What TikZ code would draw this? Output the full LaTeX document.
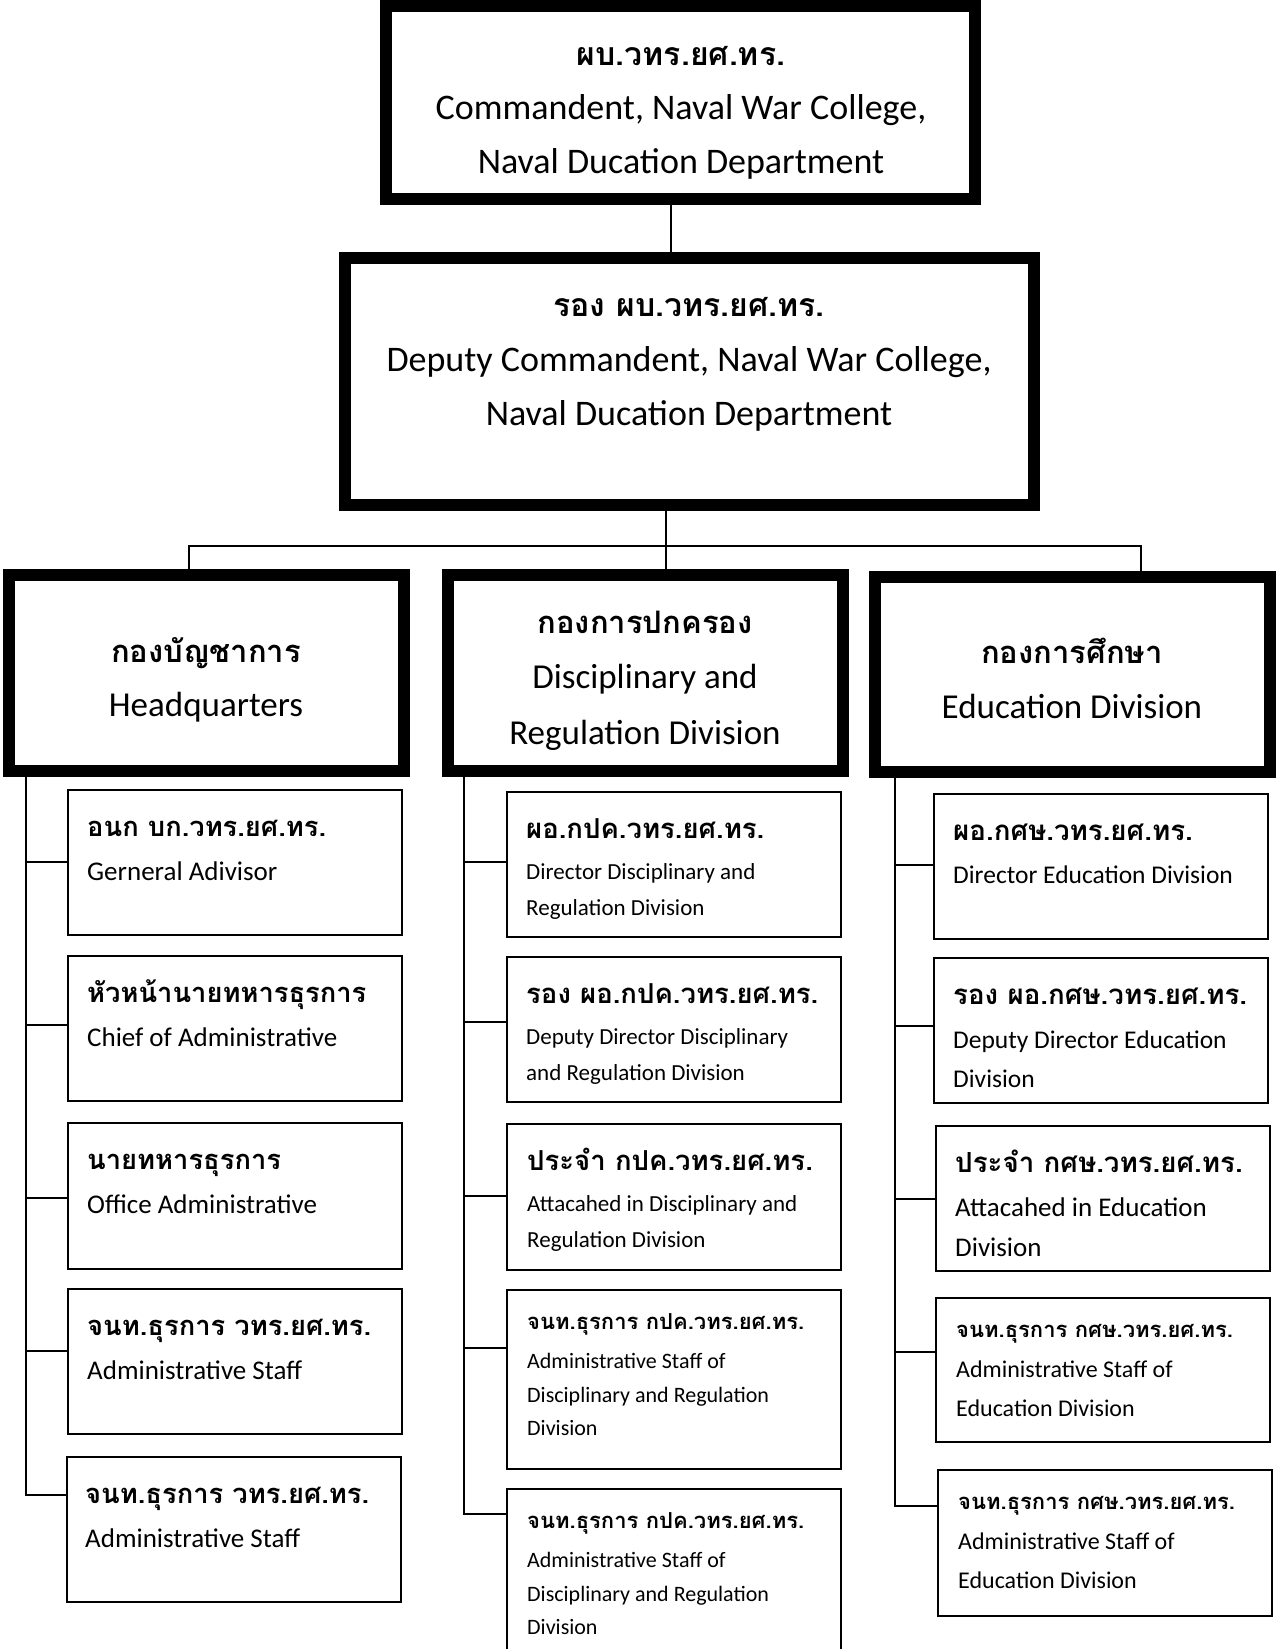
\documentclass[tikz,border=0pt]{standalone}
\usepackage{fontspec}
\setmainfont{Carlito}
\newfontfamily\thaifont[Script=Thai]{Loma}
\usetikzlibrary{calc}
\newcommand{\thb}[1]{\thaifont\bfseries\fontsize{#1pt}{#1pt}\selectfont}
\newcommand{\lat}[1]{\fontsize{#1pt}{#1pt}\selectfont}
\tikzset{
  conn/.style={line width=1.5pt},
  bigbox/.style={draw, line width=8pt, fill=white, inner sep=0pt},
  bigedge/.style={line width=8pt},
  subbox/.style={draw, line width=2pt, fill=white, inner sep=0pt, minimum width=334pt},
  ctext/.style={anchor=base, inner sep=0pt},
  ltext/.style={anchor=base west, inner sep=0pt},
}
\begin{document}
\begin{tikzpicture}[x=1pt, y=-1pt]
\useasboundingbox[fill=white] (0,0) rectangle (1278,1649);
% routing points
\coordinate (busL) at (189,546);
\coordinate (busM) at (666,546);
\coordinate (busR) at (1141,546);
\coordinate (hqsp) at (26,769);
\coordinate (midsp) at (464,769);
\coordinate (edusp) at (895,770);
% ---- main boxes
\node[bigbox, minimum width=584.5pt, minimum height=189.8pt] (top) at (680.25,102.4) {};
\node[bigbox, minimum width=684.7pt, minimum height=243pt] (dep) at (689.35,381) {};
\node[bigbox, minimum width=390.5pt, minimum height=192pt] (hq) at (206.5,673) {};
\node[bigbox, minimum width=390.8pt, minimum height=192pt] (mid) at (645.4,673) {};
\node[bigbox, minimum width=391pt, minimum height=191pt] (edu) at (1072.5,674) {};
% ---- sub boxes
\node[subbox, minimum height=145pt] (hq1) at (235,862.5) {};
\node[subbox, minimum height=145pt] (hq2) at (235,1028.5) {};
\node[subbox, minimum height=146pt] (hq3) at (235,1196) {};
\node[subbox, minimum height=145pt] (hq4) at (235,1361.5) {};
\node[subbox, minimum height=145pt] (hq5) at (234,1529.5) {};
\node[subbox, minimum height=145pt] (md1) at (674,864.5) {};
\node[subbox, minimum height=145pt] (md2) at (674,1029.5) {};
\node[subbox, minimum height=146pt] (md3) at (674,1197) {};
\node[subbox, minimum height=179pt] (md4) at (674,1379.5) {};
\node[subbox, minimum height=181pt] (md5) at (674,1579.5) {};
\node[subbox, minimum height=145pt] (ed1) at (1101,866.5) {};
\node[subbox, minimum height=145pt] (ed2) at (1101,1030.5) {};
\node[subbox, minimum height=145pt] (ed3) at (1103,1198.5) {};
\node[subbox, minimum height=144pt] (ed4) at (1103,1370) {};
\node[subbox, minimum height=146pt] (ed5) at (1105,1543) {};
% ---- attachment points on sub boxes
\path ($(hq1.north west)+(0,73)$) coordinate (hq1c);
\path ($(hq2.north west)+(0,70)$) coordinate (hq2c);
\path ($(hq3.north west)+(0,76)$) coordinate (hq3c);
\path ($(hq4.north west)+(0,63)$) coordinate (hq4c);
\path ($(hq5.north west)+(0,39)$) coordinate (hq5c);
\path ($(md1.north west)+(0,71)$) coordinate (md1c);
\path ($(md2.north west)+(0,66)$) coordinate (md2c);
\path ($(md3.north west)+(0,73)$) coordinate (md3c);
\path ($(md4.north west)+(0,59)$) coordinate (md4c);
\path ($(md5.north west)+(0,26)$) coordinate (md5c);
\path ($(ed1.north west)+(0,72)$) coordinate (ed1c);
\path ($(ed2.north west)+(0,69)$) coordinate (ed2c);
\path ($(ed3.north west)+(0,74)$) coordinate (ed3c);
\path ($(ed4.north west)+(0,55)$) coordinate (ed4c);
\path ($(ed5.north west)+(0,37)$) coordinate (ed5c);
% ---- connectors
\draw[conn] (top.south -| 671,0) -- (dep.north -| 671,0);
\draw[conn] (dep.south -| busM) -- (busM) -- (mid.north -| busM);
\draw[conn] (hq.north -| busL) -- (busL) -- (busR) -- (edu.north -| busR);
\draw[conn] (hqsp) |- (hq5c);
\foreach \c in {hq1c,hq2c,hq3c,hq4c}{\draw[conn] (\c) -- (\c -| hqsp);}
\draw[conn] (midsp) |- (md5c);
\foreach \c in {md1c,md2c,md3c,md4c}{\draw[conn] (\c) -- (\c -| midsp);}
\draw[conn] (edusp) |- (ed5c);
\foreach \c in {ed1c,ed2c,ed3c,ed4c}{\draw[conn] (\c) -- (\c -| edusp);}
% thick borders over connector ends
\foreach \n in {top,dep,hq,mid,edu}{\draw[bigedge] (\n.north west) rectangle (\n.south east);}
% ---- texts: top boxes
\node[ctext, font=\thb{32}] (t1) at (681,65) {ผบ.วทร.ยศ.ทร.};
\node[ctext, font=\lat{36}] (t2) at (681,119) {Commandent, Naval War College,};
\node[ctext, font=\lat{36}] (t3) at (681,173) {Naval Ducation Department};
\node[ctext, font=\thb{32}] (d1) at (689,316) {รอง ผบ.วทร.ยศ.ทร.};
\node[ctext, font=\lat{36}] (d2) at (689,371) {Deputy Commandent, Naval War College,};
\node[ctext, font=\lat{36}] (d3) at (689,425) {Naval Ducation Department};
% division boxes
\node[ctext, font=\thb{31}] (h1) at (206,662) {กองบัญชาการ};
\node[ctext, font=\lat{35}] (h2) at (206,716) {Headquarters};
\node[ctext, font=\thb{31}] (m1) at (645,633) {กองการปกครอง};
\node[ctext, font=\lat{35}] (m2) at (645,688) {Disciplinary and};
\node[ctext, font=\lat{35}] (m3) at (645,744) {Regulation Division};
\node[ctext, font=\thb{31}] (e1) at (1072,663) {กองการศึกษา};
\node[ctext, font=\lat{35}] (e2) at (1072,718) {Education Division};
% HQ sub boxes
\node[ltext, font=\thb{27.3}] (hq1a) at (87,836) {อนก บก.วทร.ยศ.ทร.};
\node[ltext, font=\lat{27}] (hq1b) at (87,880) {Gerneral Adivisor};
\node[ltext, font=\thb{27.3}] (hq2a) at (87,1002) {หัวหน้านายทหารธุรการ};
\node[ltext, font=\lat{27}] (hq2b) at (87,1046) {Chief of Administrative};
\node[ltext, font=\thb{27.3}] (hq3a) at (87,1169) {นายทหารธุรการ};
\node[ltext, font=\lat{27}] (hq3b) at (87,1213) {Office Administrative};
\node[ltext, font=\thb{27.3}] (hq4a) at (87,1335) {จนท.ธุรการ วทร.ยศ.ทร.};
\node[ltext, font=\lat{27}] (hq4b) at (87,1379) {Administrative Staff};
\node[ltext, font=\thb{27.3}] (hq5a) at (85,1503) {จนท.ธุรการ วทร.ยศ.ทร.};
\node[ltext, font=\lat{27}] (hq5b) at (85,1547) {Administrative Staff};
% middle sub boxes
\node[ltext, font=\thb{27.5}] (md1a) at (526,838) {ผอ.กปค.วทร.ยศ.ทร.};
\node[ltext, font=\lat{23}] (md1b) at (526,879) {Director Disciplinary and};
\node[ltext, font=\lat{23}] (md1c) at (526,915) {Regulation Division};
\node[ltext, font=\thb{27.5}] (md2a) at (526,1003) {รอง ผอ.กปค.วทร.ยศ.ทร.};
\node[ltext, font=\lat{23}] (md2b) at (526,1044) {Deputy Director Disciplinary};
\node[ltext, font=\lat{23}] (md2c) at (526,1080) {and Regulation Division};
\node[ltext, font=\thb{27.5}] (md3a) at (527,1170) {ประจำ กปค.วทร.ยศ.ทร.};
\node[ltext, font=\lat{23}] (md3b) at (527,1211) {Attacahed in Disciplinary and};
\node[ltext, font=\lat{23}] (md3c) at (527,1247) {Regulation Division};
\node[ltext, font=\thb{22}] (md4a) at (527,1329) {จนท.ธุรการ กปค.วทร.ยศ.ทร.};
\node[ltext, font=\lat{22}] (md4b) at (527,1368) {Administrative Staff of};
\node[ltext, font=\lat{22}] (md4c) at (527,1402) {Disciplinary and Regulation};
\node[ltext, font=\lat{22}] (md4d) at (527,1435) {Division};
\node[ltext, font=\thb{22}] (md5a) at (527,1528) {จนท.ธุรการ กปค.วทร.ยศ.ทร.};
\node[ltext, font=\lat{22}] (md5b) at (527,1567) {Administrative Staff of};
\node[ltext, font=\lat{22}] (md5c) at (527,1601) {Disciplinary and Regulation};
\node[ltext, font=\lat{22}] (md5d) at (527,1634) {Division};
% right sub boxes
\node[ltext, font=\thb{27.7}] (ed1a) at (953,840) {ผอ.กศษ.วทร.ยศ.ทร.};
\node[ltext, font=\lat{25.5}] (ed1b) at (953,883) {Director Education Division};
\node[ltext, font=\thb{27.7}] (ed2a) at (953,1004) {รอง ผอ.กศษ.วทร.ยศ.ทร.};
\node[ltext, font=\lat{25.5}] (ed2b) at (953,1048) {Deputy Director Education};
\node[ltext, font=\lat{25.5}] (ed2c) at (953,1087) {Division};
\node[ltext, font=\thb{27.7}] (ed3a) at (955,1172) {ประจำ กศษ.วทร.ยศ.ทร.};
\node[ltext, font=\lat{27}] (ed3b) at (955,1216) {Attacahed in Education};
\node[ltext, font=\lat{27}] (ed3c) at (955,1256) {Division};
\node[ltext, font=\thb{22}] (ed4a) at (956,1337) {จนท.ธุรการ กศษ.วทร.ยศ.ทร.};
\node[ltext, font=\lat{24}] (ed4b) at (956,1377) {Administrative Staff of};
\node[ltext, font=\lat{24}] (ed4c) at (956,1416) {Education Division};
\node[ltext, font=\thb{22}] (ed5a) at (958,1509) {จนท.ธุรการ กศษ.วทร.ยศ.ทร.};
\node[ltext, font=\lat{24}] (ed5b) at (958,1549) {Administrative Staff of};
\node[ltext, font=\lat{24}] (ed5c) at (958,1588) {Education Division};
\end{tikzpicture}
\end{document}
